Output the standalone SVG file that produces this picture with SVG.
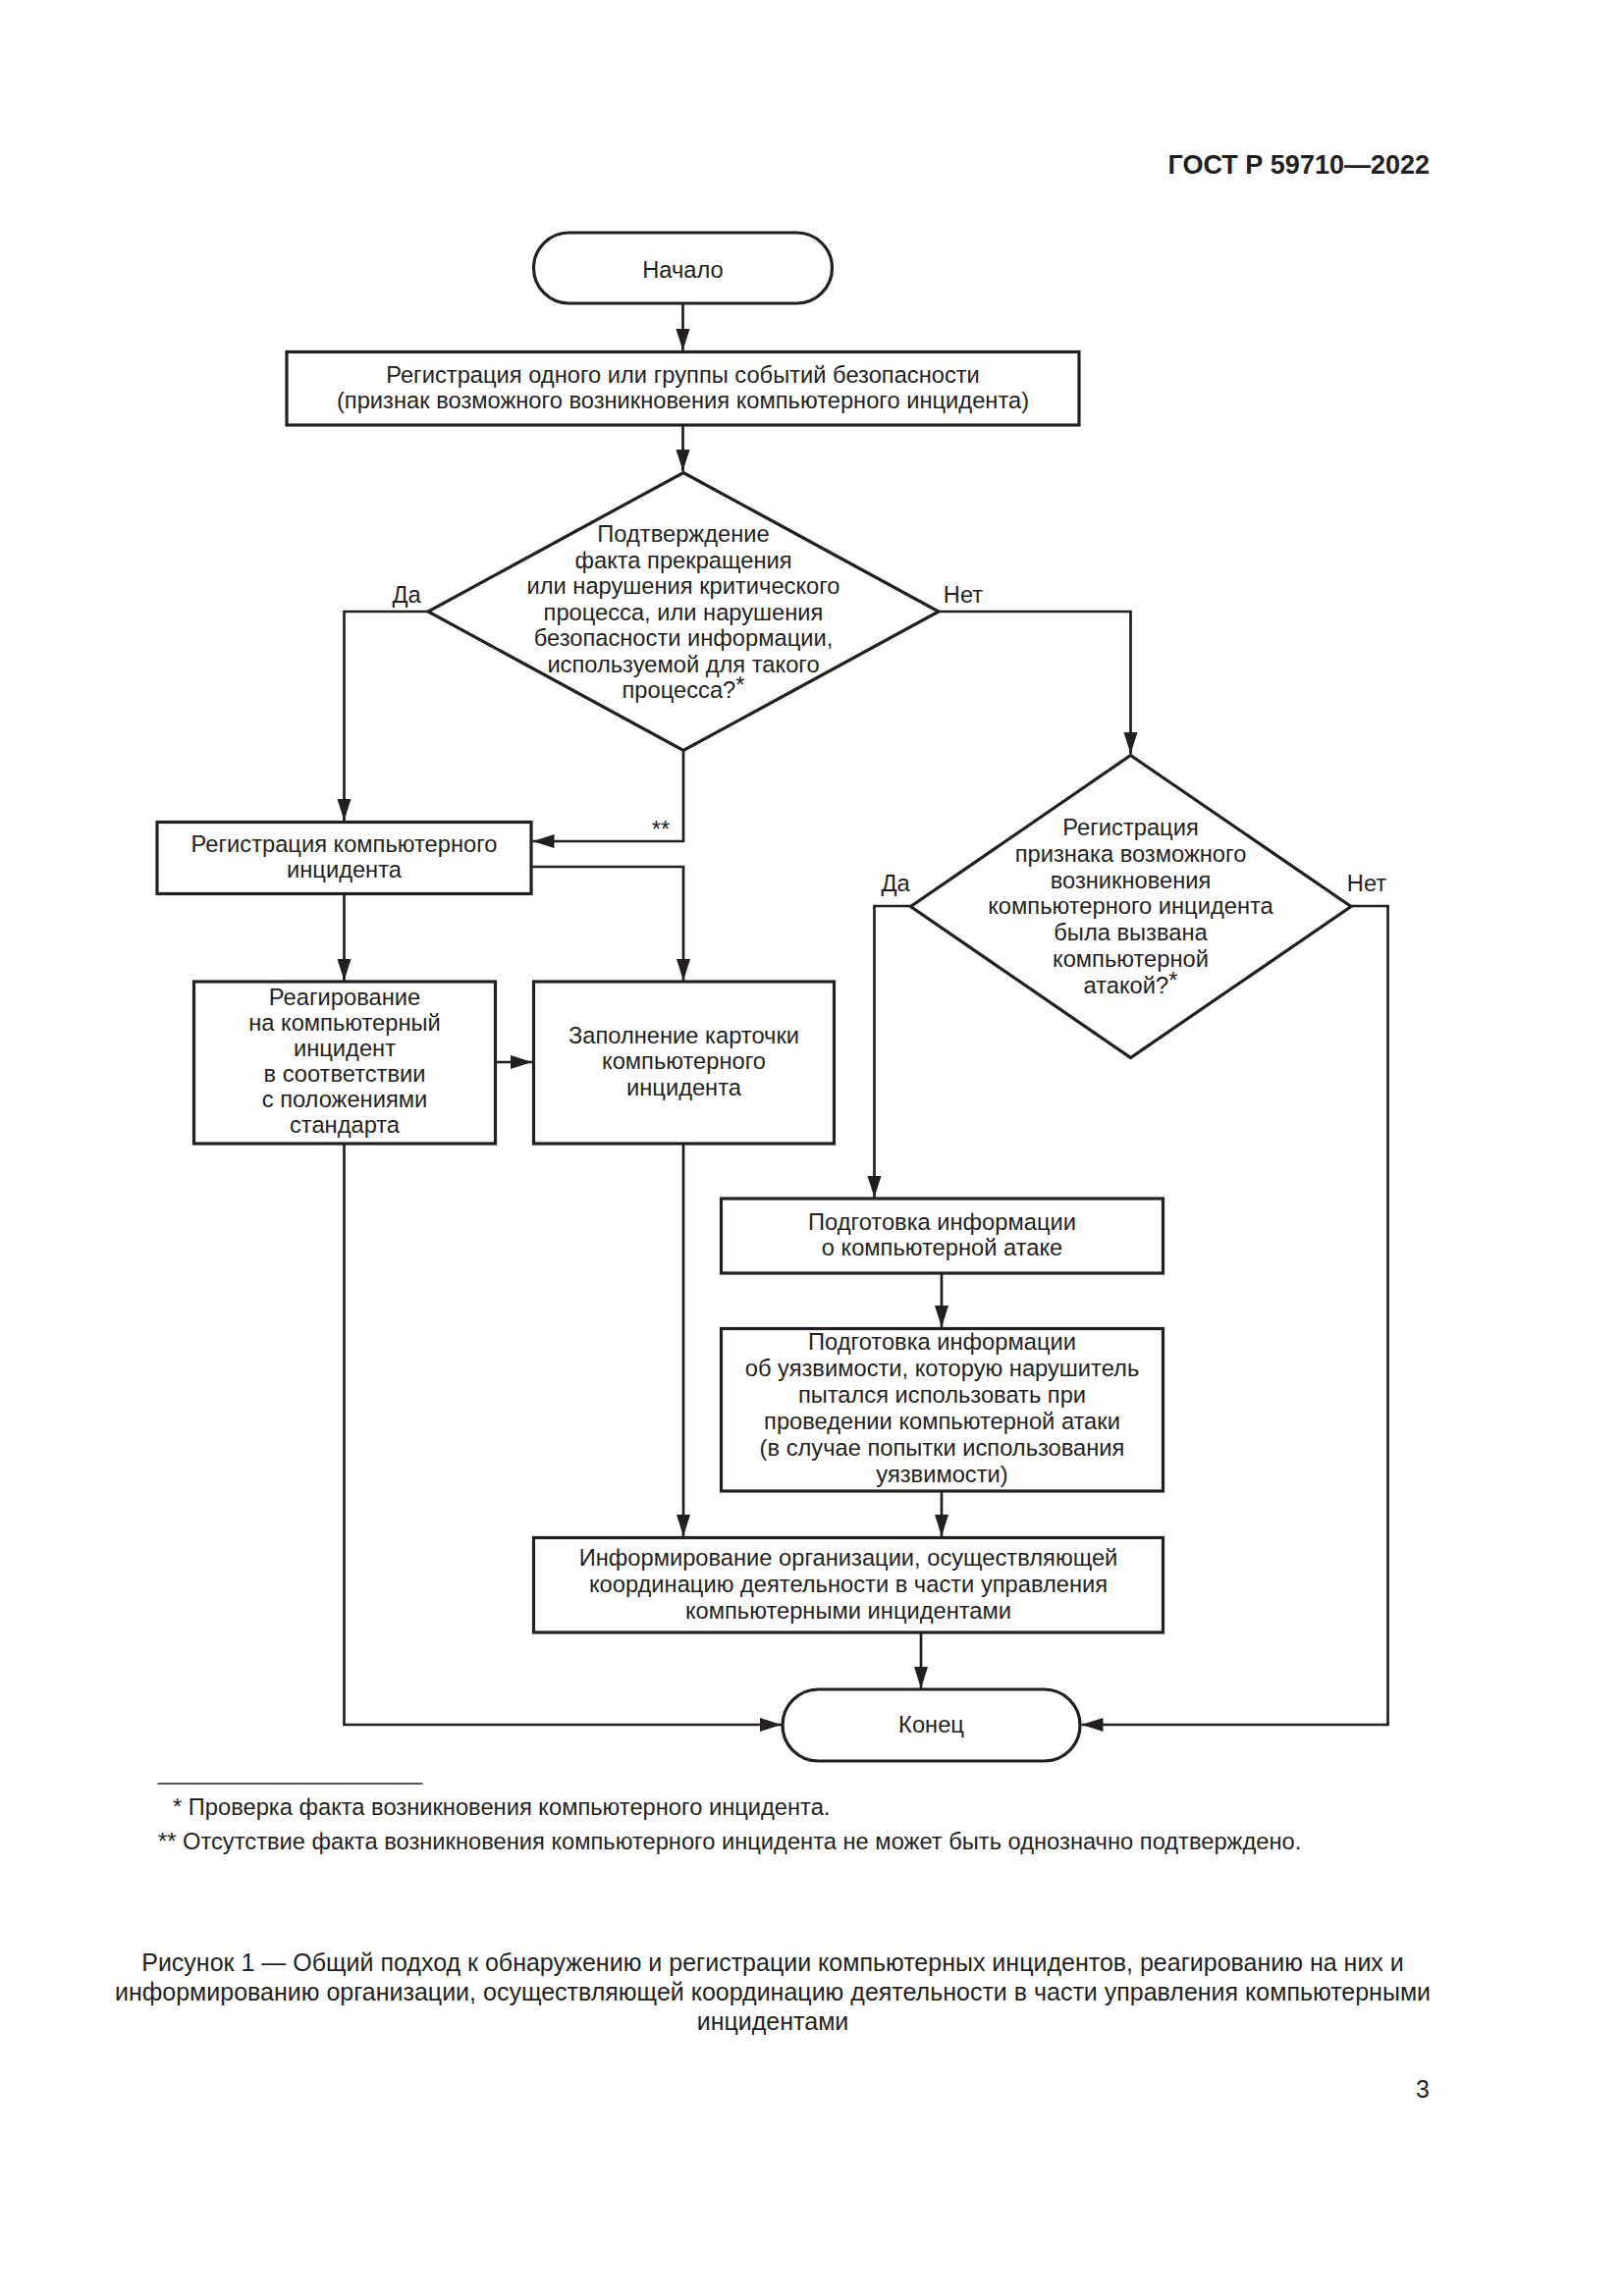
<svg xmlns="http://www.w3.org/2000/svg" width="1654" height="2339" viewBox="0 0 1654 2339">
<style>
  text { font-family: "Liberation Sans", Arial, sans-serif; fill: #231f20; }
  .t { font-size: 23.7px; text-anchor: middle; }
  .lbl { font-size: 23.7px; text-anchor: middle; }
  .shape { fill: #ffffff; stroke: #231f20; stroke-width: 3.2; }
  .conn { fill: none; stroke: #231f20; stroke-width: 2.7; }
  .note { font-size: 23.7px; }
  .cap { font-size: 25px; text-anchor: middle; }
</style>
<defs>
  <marker id="arr" markerUnits="userSpaceOnUse" markerWidth="24" markerHeight="16" refX="22" refY="7" orient="auto">
    <path d="M0,0 L22,7 L0,14 z" fill="#231f20"/>
  </marker>
</defs>
<rect width="1654" height="2339" fill="#ffffff"/>

<text x="1456" y="177" style="font-size:27px;font-weight:bold;text-anchor:end">ГОСТ Р 59710—2022</text>

<g id="connectors">
  <path class="conn" d="M695.5,309 V357" marker-end="url(#arr)"/>
  <path class="conn" d="M695.5,433 V480" marker-end="url(#arr)"/>
  <path class="conn" d="M436,623 H350.5 V836" marker-end="url(#arr)"/>
  <path class="conn" d="M956,623 H1151.5 V768" marker-end="url(#arr)"/>
  <path class="conn" d="M696,765 V857 H542.5" marker-end="url(#arr)"/>
  <path class="conn" d="M350.5,911 V999" marker-end="url(#arr)"/>
  <path class="conn" d="M541,883 H696 V999" marker-end="url(#arr)"/>
  <path class="conn" d="M504,1082 H542" marker-end="url(#arr)"/>
  <path class="conn" d="M350.5,1165 V1757 H796" marker-end="url(#arr)"/>
  <path class="conn" d="M696,1165 V1565" marker-end="url(#arr)"/>
  <path class="conn" d="M928,923 H890.5 V1220" marker-end="url(#arr)"/>
  <path class="conn" d="M1376,923 H1413.5 V1757 H1101.5" marker-end="url(#arr)"/>
  <path class="conn" d="M959,1297 V1352" marker-end="url(#arr)"/>
  <path class="conn" d="M959,1519 V1565" marker-end="url(#arr)"/>
  <path class="conn" d="M938,1663 V1720" marker-end="url(#arr)"/>
  <text class="lbl" x="414" y="614">Да</text>
  <text class="lbl" x="981" y="614">Нет</text>
  <text class="lbl" x="912" y="908">Да</text>
  <text class="lbl" x="1392" y="908">Нет</text>
  <text class="lbl" x="673" y="853">**</text>
</g>

<g id="start">
  <rect class="shape" x="543.5" y="237" width="304" height="72" rx="36" ry="36"/>
  <text class="t" x="695.5" y="283">Начало</text>
</g>

<g id="reg-events">
  <rect class="shape" x="292" y="358.5" width="807" height="74.5"/>
  <text class="t" x="695.5" y="389.5">Регистрация одного или группы событий безопасности</text>
  <text class="t" x="695.5" y="416">(признак возможного возникновения компьютерного инцидента)</text>
</g>

<g id="decision-1">
  <polygon class="shape" points="696,481.5 956,623 696,764.5 436,623"/>
  <text class="t" x="696" y="552">Подтверждение</text>
  <text class="t" x="696" y="578.5">факта прекращения</text>
  <text class="t" x="696" y="605">или нарушения критического</text>
  <text class="t" x="696" y="631.5">процесса, или нарушения</text>
  <text class="t" x="696" y="658">безопасности информации,</text>
  <text class="t" x="696" y="684.5">используемой для такого</text>
  <text class="t" x="696" y="711">процесса?<tspan dy="-5">*</tspan></text>
</g>

<g id="reg-incident">
  <rect class="shape" x="160" y="837.5" width="381" height="73"/>
  <text class="t" x="350.5" y="867.5">Регистрация компьютерного</text>
  <text class="t" x="350.5" y="894">инцидента</text>
</g>

<g id="response">
  <rect class="shape" x="197.5" y="1000" width="307" height="165"/>
  <text class="t" x="351" y="1023.5">Реагирование</text>
  <text class="t" x="351" y="1049.6">на компьютерный</text>
  <text class="t" x="351" y="1075.7">инцидент</text>
  <text class="t" x="351" y="1101.8">в соответствии</text>
  <text class="t" x="351" y="1127.9">с положениями</text>
  <text class="t" x="351" y="1154">стандарта</text>
</g>

<g id="card">
  <rect class="shape" x="543.5" y="1000" width="306" height="165"/>
  <text class="t" x="696.5" y="1062.5">Заполнение карточки</text>
  <text class="t" x="696.5" y="1089">компьютерного</text>
  <text class="t" x="696.5" y="1115.5">инцидента</text>
</g>

<g id="decision-2">
  <polygon class="shape" points="1151.5,769.5 1376,923.5 1151.5,1077.5 927.5,923.5"/>
  <text class="t" x="1151.5" y="851">Регистрация</text>
  <text class="t" x="1151.5" y="877.8">признака возможного</text>
  <text class="t" x="1151.5" y="904.6">возникновения</text>
  <text class="t" x="1151.5" y="931.4">компьютерного инцидента</text>
  <text class="t" x="1151.5" y="958.2">была вызвана</text>
  <text class="t" x="1151.5" y="985">компьютерной</text>
  <text class="t" x="1151.5" y="1011.8">атакой?<tspan dy="-5">*</tspan></text>
</g>

<g id="attack-info">
  <rect class="shape" x="734.5" y="1221" width="450" height="76"/>
  <text class="t" x="959.5" y="1253">Подготовка информации</text>
  <text class="t" x="959.5" y="1279">о компьютерной атаке</text>
</g>

<g id="vuln-info">
  <rect class="shape" x="734.5" y="1353.5" width="450" height="165.5"/>
  <text class="t" x="959.5" y="1375.3">Подготовка информации</text>
  <text class="t" x="959.5" y="1402.2">об уязвимости, которую нарушитель</text>
  <text class="t" x="959.5" y="1429.1">пытался использовать при</text>
  <text class="t" x="959.5" y="1456">проведении компьютерной атаки</text>
  <text class="t" x="959.5" y="1482.9">(в случае попытки использования</text>
  <text class="t" x="959.5" y="1509.8">уязвимости)</text>
</g>

<g id="inform">
  <rect class="shape" x="543.5" y="1566.5" width="641" height="96.5"/>
  <text class="t" x="864" y="1594.8">Информирование организации, осуществляющей</text>
  <text class="t" x="864" y="1621.7">координацию деятельности в части управления</text>
  <text class="t" x="864" y="1648.6">компьютерными инцидентами</text>
</g>

<g id="end">
  <rect class="shape" x="797" y="1721" width="303" height="73" rx="36.5" ry="36.5"/>
  <text class="t" x="948.5" y="1765">Конец</text>
</g>

<g id="footnotes">
  <line x1="160.5" y1="1817" x2="430.5" y2="1817" stroke="#231f20" stroke-width="1.6"/>
  <text class="note" x="176" y="1849">* Проверка факта возникновения компьютерного инцидента.</text>
  <text class="note" x="161" y="1884">** Отсутствие факта возникновения компьютерного инцидента не может быть однозначно подтверждено.</text>
</g>

<g id="caption">
  <text class="cap" x="787" y="2008">Рисунок 1 — Общий подход к обнаружению и регистрации компьютерных инцидентов, реагированию на них и</text>
  <text class="cap" x="787" y="2038">информированию организации, осуществляющей координацию деятельности в части управления компьютерными</text>
  <text class="cap" x="787" y="2068">инцидентами</text>
</g>

<text x="1456" y="2137" style="font-size:25px;text-anchor:end">3</text>
</svg>
